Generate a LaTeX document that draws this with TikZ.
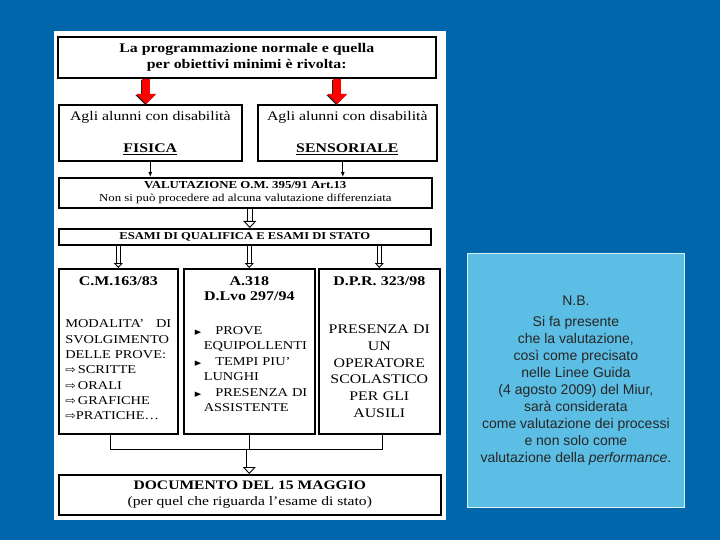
\documentclass[tikz,border=0pt]{standalone}
\usepackage{fontspec}
\setmainfont[FakeStretch=1.2]{Liberation Serif}
\setsansfont{Liberation Sans}
\newfontfamily\symfont[FakeStretch=1.2]{DejaVu Sans}
\usetikzlibrary{arrows.meta,positioning}
\definecolor{slideblue}{RGB}{0,102,172}
\definecolor{nbblue}{RGB}{92,190,228}
\newcommand{\bottomgap}[1]{\par\vspace{#1}\hrule height 0pt width 0pt}

\begin{document}
\begin{tikzpicture}[
  x=1pt, y=-1pt,
  >=Latex,
  box/.style={draw, line width=1.6pt, fill=white, align=center, anchor=north west, inner sep=2pt},
  line/.style={line width=0.9pt},
  tip/.style={line, -{Latex[length=5pt, width=4pt]}},
  hollow/.style={line width=0.9pt, double=white, double distance=4.5pt, -{Triangle[open, fill=white, length=7pt, width=13pt]}},
  hollowsmall/.style={line width=0.9pt, double=white, double distance=3pt, -{Triangle[open, fill=white, length=5pt, width=9pt]}},
  redarrow/.style={line width=8pt, red, -{Triangle[length=10pt, width=19pt]}},
]

% === BACKGROUND ===
\fill[slideblue] (0,0) rectangle (720,540);
\fill[white] (54,31) rectangle (446,520);

% === TOP ===
\node[box, minimum width=378pt, minimum height=41pt, font=\fontsize{13.2}{16}\selectfont\bfseries] (title) at (57,36)
  {La programmazione normale e quella\\per obiettivi minimi è rivolta:};

\node[box, minimum width=183pt, minimum height=56pt, font=\fontsize{13.2}{16}\selectfont] (fis) at (58,104)
  {Agli alunni con disabilità\\[16pt]\textbf{\underline{FISICA}}};
\node[box, minimum width=179pt, minimum height=56pt, font=\fontsize{13.2}{16}\selectfont] (sens) at (257,104)
  {Agli alunni con disabilità\\[16pt]\textbf{\underline{SENSORIALE}}};

\coordinate (r1) at ([xshift=-4pt]fis.north);
\coordinate (r2) at ([xshift=-10pt]sens.north);
\draw[redarrow, black!85, transform canvas={xshift=-1pt, yshift=-1pt}] (title.south -| r1) -- (r1);
\draw[redarrow] (title.south -| r1) -- (r1);
\draw[redarrow, black!85, transform canvas={xshift=-1pt, yshift=-1pt}] (title.south -| r2) -- (r2);
\draw[redarrow] (title.south -| r2) -- (r2);

% === VALUTAZIONE / ESAMI ===
\node[box, minimum width=373pt, minimum height=30pt, font=\fontsize{10.7}{13.5}\selectfont] (valut) at (58,177)
  {\textbf{VALUTAZIONE O.M. 395/91 Art.13}\\Non si può procedere ad alcuna valutazione differenziata};
\node[box, minimum width=372pt, minimum height=16pt, font=\fontsize{10.5}{12}\selectfont\bfseries] (esami) at (58,228)
  {ESAMI DI QUALIFICA E ESAMI DI STATO};

\coordinate (s1) at ([xshift=-4.5pt]sens.south);
\draw[tip] (fis.south) -- (fis.south |- valut.north);
\draw[tip] (s1) -- (s1 |- valut.north);
\coordinate (v1) at ([xshift=4.5pt]valut.south);
\draw[hollow] (v1) -- (v1 |- esami.north);

% === THREE COLUMNS ===
\node[box, minimum width=119pt, minimum height=165pt, text width=106pt, inner xsep=6.5pt, align=left,
  font=\fontsize{12}{15.3}\selectfont] (cm) at (58,268)
  {\makebox[106pt]{\fontsize{13.3}{16}\selectfont\bfseries C.M.163/83}\\[27pt]
   MODALITA’\hfill DI\\
   SVOLGIMENTO\\
   DELLE PROVE:\\
   {\symfont\fontsize{10.5}{10}\selectfont ⇨}\,SCRITTE\\
   {\symfont\fontsize{10.5}{10}\selectfont ⇨}\,ORALI\\
   {\symfont\fontsize{10.5}{10}\selectfont ⇨}\,GRAFICHE\\
   {\symfont\fontsize{10.5}{10}\selectfont ⇨}PRATICHE…\bottomgap{6pt}};

\node[box, minimum width=131pt, minimum height=165pt, text width=119pt, inner xsep=6pt, align=left,
  font=\fontsize{12}{15.5}\selectfont] (dlvo) at (183,268)
  {\makebox[119pt]{\fontsize{13.3}{16}\selectfont\bfseries A.318}\\
   \makebox[119pt]{\fontsize{13.3}{16}\selectfont\bfseries D.Lvo 297/94}\\[18pt]
   \hspace*{5pt}{\symfont\fontsize{7}{8}\selectfont ▶}\hspace*{14pt}PROVE\\
   \hspace*{14pt}EQUIPOLLENTI\\
   \hspace*{5pt}{\symfont\fontsize{7}{8}\selectfont ▶}\hspace*{14pt}TEMPI PIU’\\
   \hspace*{14pt}LUNGHI\\
   \hspace*{5pt}{\symfont\fontsize{7}{8}\selectfont ▶}\hspace*{14pt}PRESENZA DI\\
   \hspace*{14pt}ASSISTENTE\bottomgap{14pt}};

\node[box, minimum width=121pt, minimum height=165pt, text width=113pt, inner xsep=4pt,
  font=\fontsize{13.2}{16.8}\selectfont] (dpr) at (318,268)
  {{\fontsize{13.3}{16}\selectfont\bfseries D.P.R. 323/98}\\[31pt]
   PRESENZA DI\\UN\\OPERATORE\\SCOLASTICO\\PER GLI\\AUSILI\bottomgap{8pt}};

\draw[hollowsmall] (esami.south -| cm.north) -- (cm.north);
\draw[hollowsmall] (esami.south -| dlvo.north) -- (dlvo.north);
\draw[hollowsmall] (esami.south -| dpr.north) -- (dpr.north);

% === DOCUMENTO ===
\node[box, minimum width=382pt, minimum height=40pt, font=\fontsize{13}{16}\selectfont] (doc) at (58,474)
  {\textbf{DOCUMENTO DEL 15 MAGGIO}\\(per quel che riguarda l’esame di stato)};

\coordinate (j) at ([yshift=-15pt]dlvo.south);
\coordinate (c1) at ([xshift=-8pt]cm.south);
\coordinate (d1) at ([xshift=3pt]dpr.south);
\draw[line] (c1) |- (j) -| (d1);
\draw[line] (dlvo.south) -- (j);
\draw[hollow] (j) -- (j |- doc.north);

% === N.B. ===
\node[draw=white!75!nbblue, line width=0.8pt, fill=nbblue, anchor=north west, align=center,
  minimum width=217pt, minimum height=254pt, font=\sffamily\fontsize{14}{17}\selectfont, text=black!85] (nb) at (467,253)
  {N.B.\\[4pt]
   Si fa presente\\
   che la valutazione,\\
   così come precisato\\
   nelle Linee Guida\\
   (4 agosto 2009) del Miur,\\
   sarà considerata\\
   come valutazione dei processi\\
   e non solo come\\
   valutazione della \emph{performance}.};

\end{tikzpicture}
\end{document}
